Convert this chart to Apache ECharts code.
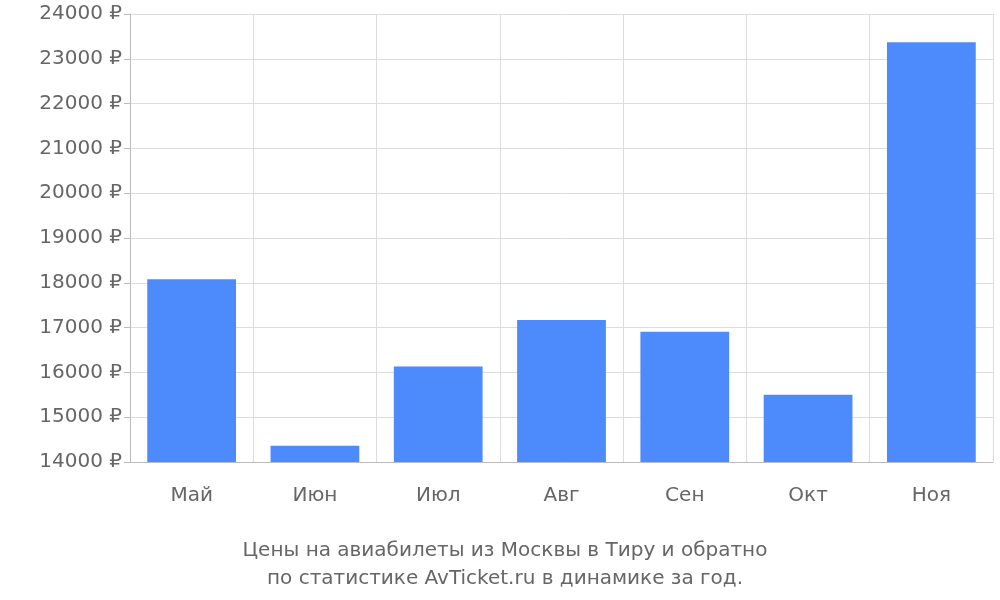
<!DOCTYPE html><html><head><meta charset="utf-8"><script src="https://cdn.jsdelivr.net/npm/echarts@6/dist/echarts.min.js"></script></head><body style="margin:0"><div id="c" style="width:1000px;height:600px"></div><script>
const categories=["Май","Июн","Июл","Авг","Сен","Окт","Ноя"];
const values=[18080,14360,16130,17170,16910,15500,23370];
const ch=echarts.init(document.getElementById('c'));
const f="DejaVu Sans";
ch.setOption({animation:false,
title:{text:"Цены на авиабилеты из Москвы в Тиру и обратно\nпо статистике AvTicket.ru в динамике за год.",left:500,textAlign:'center',top:532,textStyle:{fontFamily:f,fontSize:20,fontWeight:'normal',color:'#666',lineHeight:28}},
grid:{left:130,right:7,top:14,bottom:138},
xAxis:{type:'category',data:categories,boundaryGap:true,axisLine:{lineStyle:{color:'#bbb'}},axisTick:{length:18,lineStyle:{color:'#ccc'}},splitLine:{show:true,lineStyle:{color:'#ddd'}},axisLabel:{fontFamily:f,fontSize:20,color:'#666',margin:24}},
yAxis:{type:'value',min:14000,max:24000,interval:1000,axisLine:{show:true,lineStyle:{color:'#bbb'}},axisTick:{show:true,length:6,lineStyle:{color:'#bbb'}},splitLine:{lineStyle:{color:'#ddd'}},axisLabel:{fontFamily:f,fontSize:20,color:'#666',formatter:v=>v+' ₽'}},
series:[{type:'bar',data:values,barWidth:'72%',itemStyle:{color:'#4d8afb'}}]});
</script></body></html>
